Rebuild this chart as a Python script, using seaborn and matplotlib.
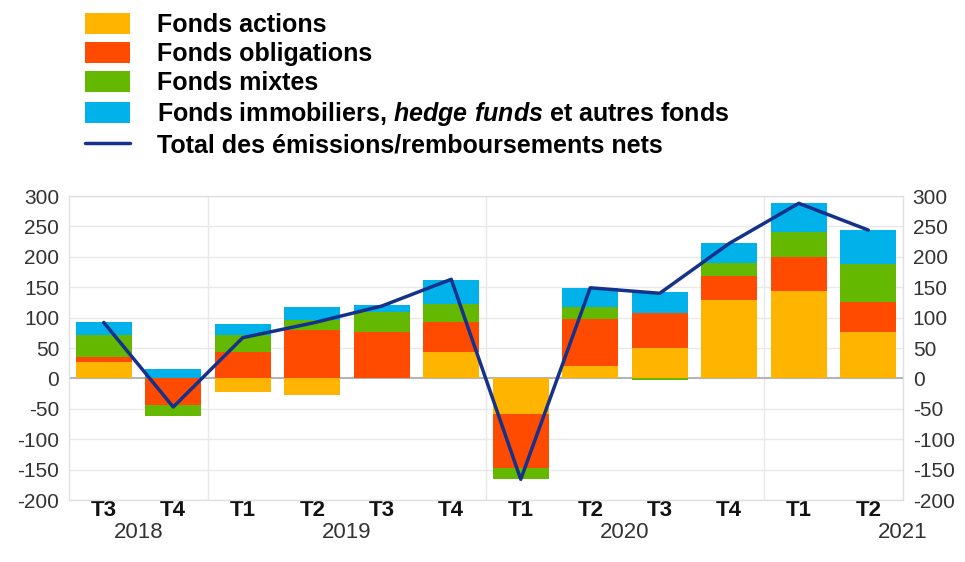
import matplotlib
matplotlib.use("Agg")
import matplotlib.pyplot as plt
import matplotlib.transforms as mtransforms
from matplotlib.patches import Patch
from matplotlib.lines import Line2D
import numpy as np
import pandas as pd
import seaborn as sns

# ---------------- data ----------------
quarters = ["T3", "T4", "T1", "T2", "T3", "T4", "T1", "T2", "T3", "T4", "T1", "T2"]
years = ["2018", "2019", "2020", "2021"]
year_centers = [0.5, 3.5, 7.5, 11.5]
year_bounds = [1.5, 5.5, 9.5]

actions = [27, 0, -22, -28, 1, 43, -58, 20, 50, 129, 144, 76]
obligations = [8, -43, 44, 80, 75, 50, -89, 78, 58, 40, 56, 50]
mixtes = [37, -19, 27, 16, 34, 29, -18, 19, -3, 21, 40, 62]
autres = [21, 16, 19, 22, 11, 40, 0, 31, 34, 32, 48, 56]
total = [92, -47, 67, 91, 119, 163, -166, 149, 140, 222, 288, 244]

series_names = ["Fonds actions", "Fonds obligations", "Fonds mixtes",
                "Fonds immobiliers, $\\mathit{hedge\\ funds}$ et autres fonds"]
line_name = "Total des émissions/remboursements nets"
colors = ["#FFB400", "#FF4B00", "#65B800", "#00B1EA"]
line_color = "#15318C"

# ---------------- style ----------------
sns.set_theme(style="white")
plt.rcParams["font.family"] = ["Liberation Sans", "DejaVu Sans"]
plt.rcParams["mathtext.fontset"] = "custom"
plt.rcParams["mathtext.it"] = "Liberation Sans:italic:bold"
plt.rcParams["mathtext.rm"] = "Liberation Sans:bold"
plt.rcParams["mathtext.bf"] = "Liberation Sans:bold"

fig = plt.figure(figsize=(9.65, 5.62), dpi=100)
ax = fig.add_axes([69 / 965, 1 - 500 / 562, (903 - 69) / 965, (500 - 196) / 562])

x = np.arange(len(quarters))
df = pd.DataFrame({"x": x, "total": total})

pos_bottom = np.zeros(len(x))
neg_bottom = np.zeros(len(x))
for vals, col in zip([actions, obligations, mixtes, autres], colors):
    v = np.array(vals, dtype=float)
    bottoms = np.where(v >= 0, pos_bottom, neg_bottom)
    ax.bar(x, v, bottom=bottoms, width=0.81, color=col, edgecolor="none", zorder=2)
    pos_bottom += np.where(v >= 0, v, 0)
    neg_bottom += np.where(v < 0, v, 0)

sns.lineplot(data=df, x="x", y="total", ax=ax, color=line_color, linewidth=2.5,
             zorder=4, legend=False)

# grid
yt = np.arange(-200, 301, 50)
for y in yt:
    if y != 0:
        ax.axhline(y, color="#e8e8e8", linewidth=1, zorder=0)
ax.axhline(0, color="#b4b4b4", linewidth=1.5, zorder=1)
for xb in year_bounds:
    ax.axvline(xb, color="#e8e8e8", linewidth=1, zorder=0)

ax.set_xlim(-0.5, 11.5)
ax.set_ylim(-200, 300)
ax.set_yticks(yt)
ax.set_yticklabels([str(v) for v in yt], fontsize=15)
ax.tick_params(axis="y", left=False, right=False, labelleft=True, labelright=True,
               length=0, pad=7, labelcolor="#333333")
ax.set_xticks(x)
ax.set_xticklabels(quarters, fontsize=16, fontweight="bold", color="#111111")
ax.tick_params(axis="x", bottom=False, length=0, pad=0)
ax.set_xlabel("")
ax.set_ylabel("")
for s in ax.spines.values():
    s.set_color("#e0e0e0")
    s.set_linewidth(1)

trans = mtransforms.blended_transform_factory(ax.transData, ax.transAxes)
for yr, xc in zip(years, year_centers):
    ax.text(xc, -0.107, yr, transform=trans, ha="center", va="center",
            fontsize=16, color="#333333")

handles = [Patch(facecolor=c, edgecolor="none") for c in colors]
handles.append(Line2D([0], [0], color=line_color, linewidth=2.5))
leg = fig.legend(handles, series_names + [line_name], loc="upper left",
                 bbox_to_anchor=(85 / 965, 1 - 13 / 562), frameon=False,
                 prop={"size": 18, "weight": "bold"}, handlelength=1.8,
                 handleheight=0.92, labelspacing=0.2, handletextpad=1.08,
                 borderaxespad=0, borderpad=0)
for t in leg.get_texts():
    t.set_color("black")

fig.savefig("out.png", dpi=100)
